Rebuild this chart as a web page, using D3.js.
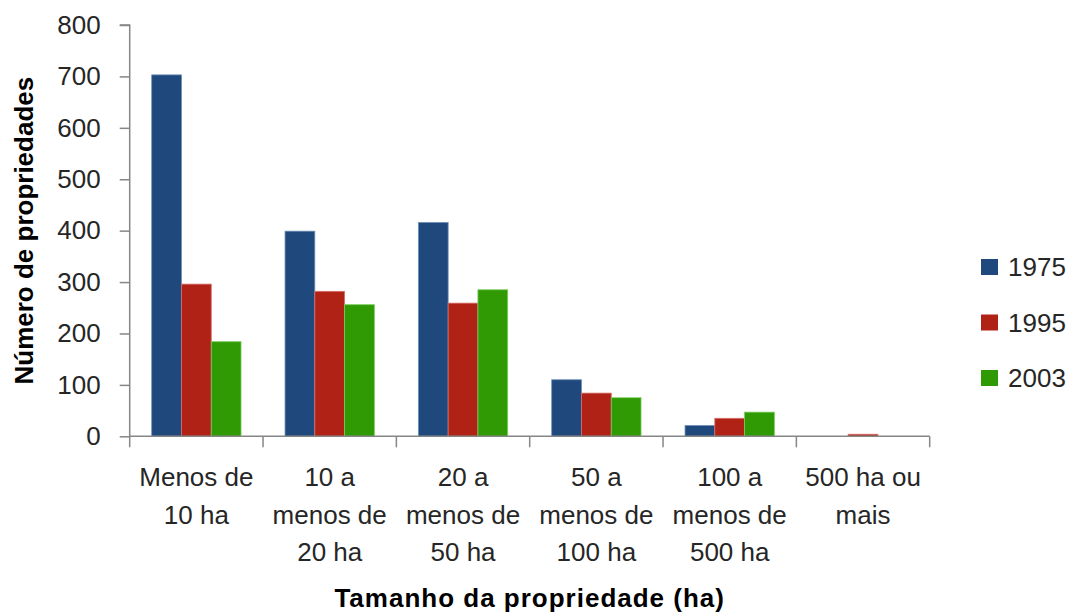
<!DOCTYPE html>
<html><head><meta charset="utf-8">
<script src="https://cdn.jsdelivr.net/npm/d3@7"></script>
<style>
body{margin:0;background:#fff;}
text{font-family:"Liberation Sans",Arial,sans-serif;}
</style></head>
<body><svg id="c" width="1075" height="613"></svg>
<script>
const categories = [
  ["Menos de","10 ha"],
  ["10 a","menos de","20 ha"],
  ["20 a","menos de","50 ha"],
  ["50 a","menos de","100 ha"],
  ["100 a","menos de","500 ha"],
  ["500 ha ou","mais"]
];
const series = ["1975","1995","2003"];
const v1975 = [703, 399, 416, 110, 21, 0];
const v1995 = [296, 282, 259, 84, 35, 4];
const v2003 = [184, 256, 285, 75, 47, 0];
const yTicks = [0,100,200,300,400,500,600,700,800];
const colors = ["#1F497D","#B02216","#309A05"];
const strokes = ["#6f8fb8","#d6706a","#7ccd5e"];
const values = [v1975, v1995, v2003];

(function(){
const svg = d3.select("#c");
const pl = 129.7, pr = 929.7, pt = 25, pb = 436.3;
const keys = categories.map((c,i)=>"c"+i);
const x0 = d3.scaleBand().domain(keys).range([pl,pr]).padding(0);
const bw = x0.bandwidth();
const x1 = d3.scaleBand().domain(series).range([bw*0.165, bw*0.835]).padding(0);
const y = d3.scaleLinear().domain([0,800]).range([pb, pt]);

// bars
series.forEach((s,si)=>{
  svg.append("g").selectAll("rect").data(values[si]).join("rect")
    .attr("x",(d,i)=>x0(keys[i])+x1(s))
    .attr("y",d=>y(d))
    .attr("width",x1.bandwidth())
    .attr("height",d=>pb-y(d))
    .attr("fill",colors[si])
    .attr("stroke",d=>d>0?strokes[si]:"none")
    .attr("stroke-width",0.8);
});

// y axis
const yAxis = svg.append("g").attr("transform",`translate(${pl},0)`)
  .call(d3.axisLeft(y).tickValues(yTicks).tickSize(10).tickPadding(19).tickFormat(d3.format("d")));
yAxis.select(".domain").attr("stroke","#868686").attr("stroke-width",1.5).attr("d",`M-10,${pt}H0V${pb}`);
yAxis.selectAll(".tick line").attr("stroke","#868686").attr("stroke-width",1.5);
yAxis.selectAll(".tick text").attr("font-size",26).attr("fill","#262626").attr("font-family","Liberation Sans, Arial, sans-serif");

// x axis
const xAxis = svg.append("g").attr("transform",`translate(0,${pb})`)
  .call(d3.axisBottom(x0).tickSize(0).tickFormat(""));
xAxis.select(".domain").attr("stroke","#868686").attr("stroke-width",1.5).attr("d",`M${pl},0H${pr}`);
const bounds = keys.map(k=>x0(k)).concat([pr]);
xAxis.selectAll("line.bnd").data(bounds).join("line").attr("class","bnd")
  .attr("x1",d=>d).attr("x2",d=>d).attr("y1",0).attr("y2",11)
  .attr("stroke","#868686").attr("stroke-width",1.5);
xAxis.selectAll(".tick").each(function(d,i){
  const t = d3.select(this).append("text").attr("text-anchor","middle")
    .attr("font-size",26).attr("fill","#262626").attr("y",50)
    .attr("font-family","Liberation Sans, Arial, sans-serif");
  categories[i].forEach((ln,j)=>{
    t.append("tspan").attr("x",0).attr("y",50+j*37.5).text(ln);
  });
});

// axis titles
svg.append("text").attr("x",(pl+pr)/2).attr("y",607).attr("text-anchor","middle")
  .attr("font-size",26).attr("font-weight","bold").attr("letter-spacing",1).attr("fill","#000")
  .text("Tamanho da propriedade (ha)");
svg.append("text").attr("transform",`translate(33,${(pt+pb)/2}) rotate(-90)`)
  .attr("text-anchor","middle").attr("font-size",26).attr("font-weight","bold").attr("fill","#000")
  .text("Número de propriedades");

// legend
const lg = svg.append("g");
series.forEach((s,i)=>{
  const yy = 259 + i*55.5;
  lg.append("rect").attr("x",981).attr("y",yy).attr("width",17).attr("height",16).attr("fill",colors[i]);
  lg.append("text").attr("x",1008).attr("y",yy+17).attr("font-size",26).attr("fill","#262626").text(s);
});
})();
</script></body></html>
